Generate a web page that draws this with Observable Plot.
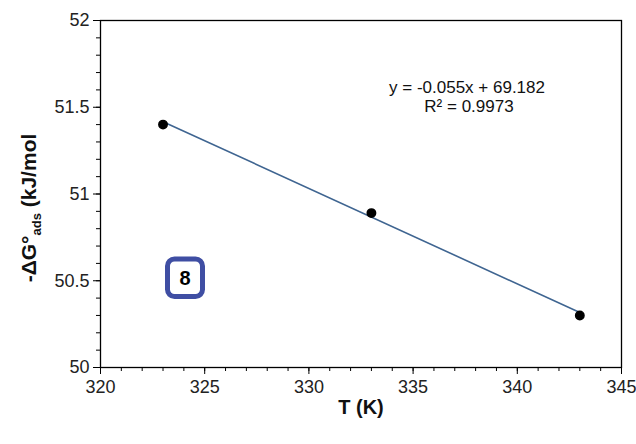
<!DOCTYPE html>
<html>
<head>
<meta charset="utf-8">
<script src="https://cdn.jsdelivr.net/npm/d3@7"></script>
<script src="https://cdn.jsdelivr.net/npm/@observablehq/plot@0.6"></script>
<style>
  html, body { margin: 0; padding: 0; background: #fff; }
  #chart { width: 636px; height: 444px; }
</style>
</head>
<body>
<div id="chart"></div>
<script>
// Data
const temperatures = [323, 333, 343];           // T (K)
const deltaG = [51.40, 50.89, 50.30];           // -ΔG°ads (kJ/mol)
const fitSlope = -0.055;
const fitIntercept = 69.182;
const fitRange = [323, 343];
const xMajorTicks = [320, 325, 330, 335, 340, 345];
const yMajorTicks = [50, 50.5, 51, 51.5, 52];
const equationLines = ["y = -0.055x + 69.182", "R\u00B2 = 0.9973"];
const panelLabel = "8";

const points = temperatures.map((t, i) => ({T: t, G: deltaG[i]}));
const fitLine = fitRange.map(t => ({T: t, G: fitSlope * t + fitIntercept}));

const font = "'Liberation Sans', Arial, sans-serif";

const chart = Plot.plot({
  width: 636,
  height: 444,
  marginLeft: 100,
  marginRight: 15,
  marginTop: 20,
  marginBottom: 77,
  style: {fontFamily: font, fontSize: "18px", color: "#222", background: "#fff", overflow: "visible"},
  x: {domain: [320, 345]},
  y: {domain: [50, 52]},
  marks: [
    Plot.frame({stroke: "#000", strokeWidth: 1.3}),
    Plot.axisX({ticks: d3.range(320, 346, 1), tickSize: 4, text: null, label: null, stroke: "#000"}),
    Plot.axisX({ticks: xMajorTicks, tickSize: 7, tickPadding: 6, label: null, stroke: "#000", fill: "#222"}),
    Plot.axisY({ticks: d3.range(50, 52.001, 0.1), tickSize: 4, text: null, label: null, stroke: "#000"}),
    Plot.axisY({ticks: yMajorTicks, tickSize: 7, tickPadding: 4, label: null, stroke: "#000", fill: "#222", tickFormat: d => String(d)}),
    Plot.line(fitLine, {x: "T", y: "G", stroke: "#3f6591", strokeWidth: 1.6}),
    Plot.dot(points, {x: "T", y: "G", r: 4.2, fill: "#000", stroke: "#000"}),
    Plot.text([equationLines[0]], {frameAnchor: "top", dx: 106, dy: 60, fontSize: 17, fill: "#111"}),
    Plot.text([equationLines[1]], {frameAnchor: "top", dx: 108, dy: 79, fontSize: 17, fill: "#111"}),
    Plot.text(["T (K)"], {frameAnchor: "bottom", dy: 46, fontSize: 20, fontWeight: "bold", fill: "#111"})
  ]
});

document.getElementById("chart").appendChild(chart);

// y-axis title with subscript, and the boxed panel label
const svg = d3.select(chart);
const yTitle = svg.append("text")
  .attr("transform", "translate(36,208) rotate(-90)")
  .attr("text-anchor", "middle")
  .attr("font-family", font)
  .attr("font-weight", "bold")
  .attr("font-size", 21)
  .attr("fill", "#111");
yTitle.append("tspan").text("-\u0394G\u00B0");
yTitle.append("tspan").attr("font-size", 13).attr("dy", 5).text("ads");
yTitle.append("tspan").attr("dy", -5).text(" (kJ/mol");

const box = svg.append("g");
box.append("rect")
  .attr("x", 167.5).attr("y", 259)
  .attr("width", 35).attr("height", 37.5)
  .attr("rx", 7).attr("ry", 7)
  .attr("fill", "#fff")
  .attr("stroke", "#3f4ea3")
  .attr("stroke-width", 5);
box.append("text")
  .attr("x", 185).attr("y", 278)
  .attr("text-anchor", "middle")
  .attr("dominant-baseline", "central")
  .attr("font-family", font)
  .attr("font-weight", "bold")
  .attr("font-size", 20)
  .attr("fill", "#000")
  .text(panelLabel);
</script>
</body>
</html>
